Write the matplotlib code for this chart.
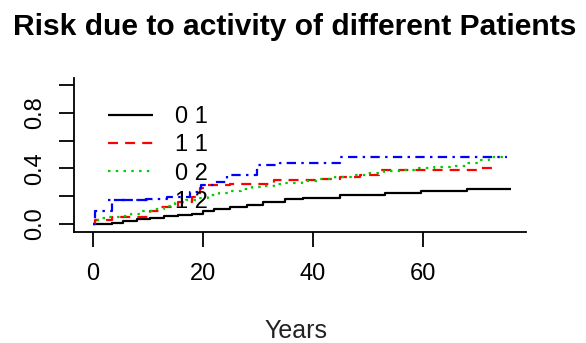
import matplotlib
matplotlib.use("Agg")
import matplotlib.pyplot as plt

plt.rcParams['font.family'] = ['Liberation Sans', 'DejaVu Sans']

# ---- data ----
groups = ["0 1", "1 1", "0 2", "1 2"]
colors = ["#000000", "#FF0000", "#00CD00", "#0000FF"]

t_01 = [0, 3.5, 5.5, 8, 10.5, 13, 15.5, 18, 20, 22, 25, 28, 31, 35, 38.3, 45, 53.2, 59.8, 68, 76]
y_01 = [0, 0.01, 0.025, 0.035, 0.045, 0.055, 0.065, 0.075, 0.09, 0.11, 0.125, 0.14, 0.155, 0.178, 0.19, 0.206, 0.22, 0.24, 0.254, 0.254]

t_11 = [0, 0.5, 3.5, 10.5, 12, 15.5, 18, 19.5, 20.7, 25, 33, 40.8, 45, 48.6, 52, 70, 73.5]
y_11 = [0, 0.03, 0.05, 0.09, 0.125, 0.16, 0.196, 0.257, 0.28, 0.29, 0.317, 0.327, 0.34, 0.353, 0.39, 0.403, 0.403]

t_02 = [0, 1, 3, 5, 7, 9, 11, 13, 15, 17, 19, 21, 23, 25, 27, 29, 31, 33, 35, 38, 41, 44, 47, 50, 53, 56, 59, 62, 65, 68, 70.5, 72, 75.3]
y_02 = [0, 0.04, 0.05, 0.06, 0.075, 0.09, 0.11, 0.13, 0.15, 0.17, 0.19, 0.21, 0.225, 0.24, 0.255, 0.265, 0.275, 0.285, 0.293, 0.31, 0.32, 0.335, 0.35, 0.365, 0.38, 0.39, 0.40, 0.41, 0.42, 0.44, 0.46, 0.48, 0.48]

t_12 = [0, 0.5, 3.5, 9.8, 13.5, 17.7, 19.8, 22, 24.4, 29.9, 34, 41.4, 45, 75.3]
y_12 = [0, 0.09, 0.17, 0.18, 0.196, 0.23, 0.28, 0.30, 0.35, 0.424, 0.437, 0.437, 0.48, 0.48]

series_t = [t_01, t_11, t_02, t_12]
series_y = [y_01, y_11, y_02, y_12]

x_ticks = [0, 20, 40, 60]
y_ticks = [0.0, 0.2, 0.4, 0.6, 0.8, 1.0]
y_ticklabels = ["0.0", "", "0.4", "", "0.8", ""]

title = "Risk due to activity of different Patients"
xlabel = "Years"

# ---- figure ----
W, H = 586, 343
fig = plt.figure(figsize=(W / 100, H / 100), dpi=100)
ax = fig.add_axes([73.6 / W, 1 - 232 / H, (526 - 73.6) / W, (232 - 78) / H])

lw = 1.6
dash_styles = [(0, ()), (0, (4.5, 3.2)), (0, (1.1, 2.4)), (0, (1.1, 2.4, 4.2, 2.4))]
for t, y, c, ls, g in zip(series_t, series_y, colors, dash_styles, groups):
    ax.step(t, y, where='post', color=c, lw=lw, linestyle=ls, label=g,
            solid_capstyle='butt', dash_capstyle='butt')

ax.set_xlim(-3.44, 78.8)
ax.set_ylim(-0.0576, 1.05)

for s in ['top', 'right']:
    ax.spines[s].set_visible(False)
for s in ['left', 'bottom']:
    ax.spines[s].set_linewidth(1.3)

ax.set_xticks(x_ticks)
ax.set_xticklabels([str(v) for v in x_ticks])
ax.set_yticks(y_ticks)
ax.set_yticklabels(y_ticklabels)
ax.tick_params(axis='both', direction='out', length=10.5, width=1.3, labelsize=17, colors='black')
ax.tick_params(axis='x', pad=12)
ax.tick_params(axis='y', pad=9, labelrotation=90)
for lab in ax.get_yticklabels():
    lab.set_va('center')

leg = ax.legend(loc='upper left', bbox_to_anchor=(108 / W, 1 - 106 / H),
                bbox_transform=fig.transFigure, frameon=False, fontsize=17,
                handlelength=1.9, handletextpad=0.95, labelspacing=0.27,
                borderpad=0, borderaxespad=0)

fig.text(294.5 / W, 1 - 35 / H, title, ha='center', va='baseline',
         fontsize=21.6, fontweight='bold', color='black')
fig.text(296 / W, 1 - 338 / H, xlabel, ha='center', va='baseline',
         fontsize=18, color='#222222')

fig.savefig("out.png", dpi=100)
